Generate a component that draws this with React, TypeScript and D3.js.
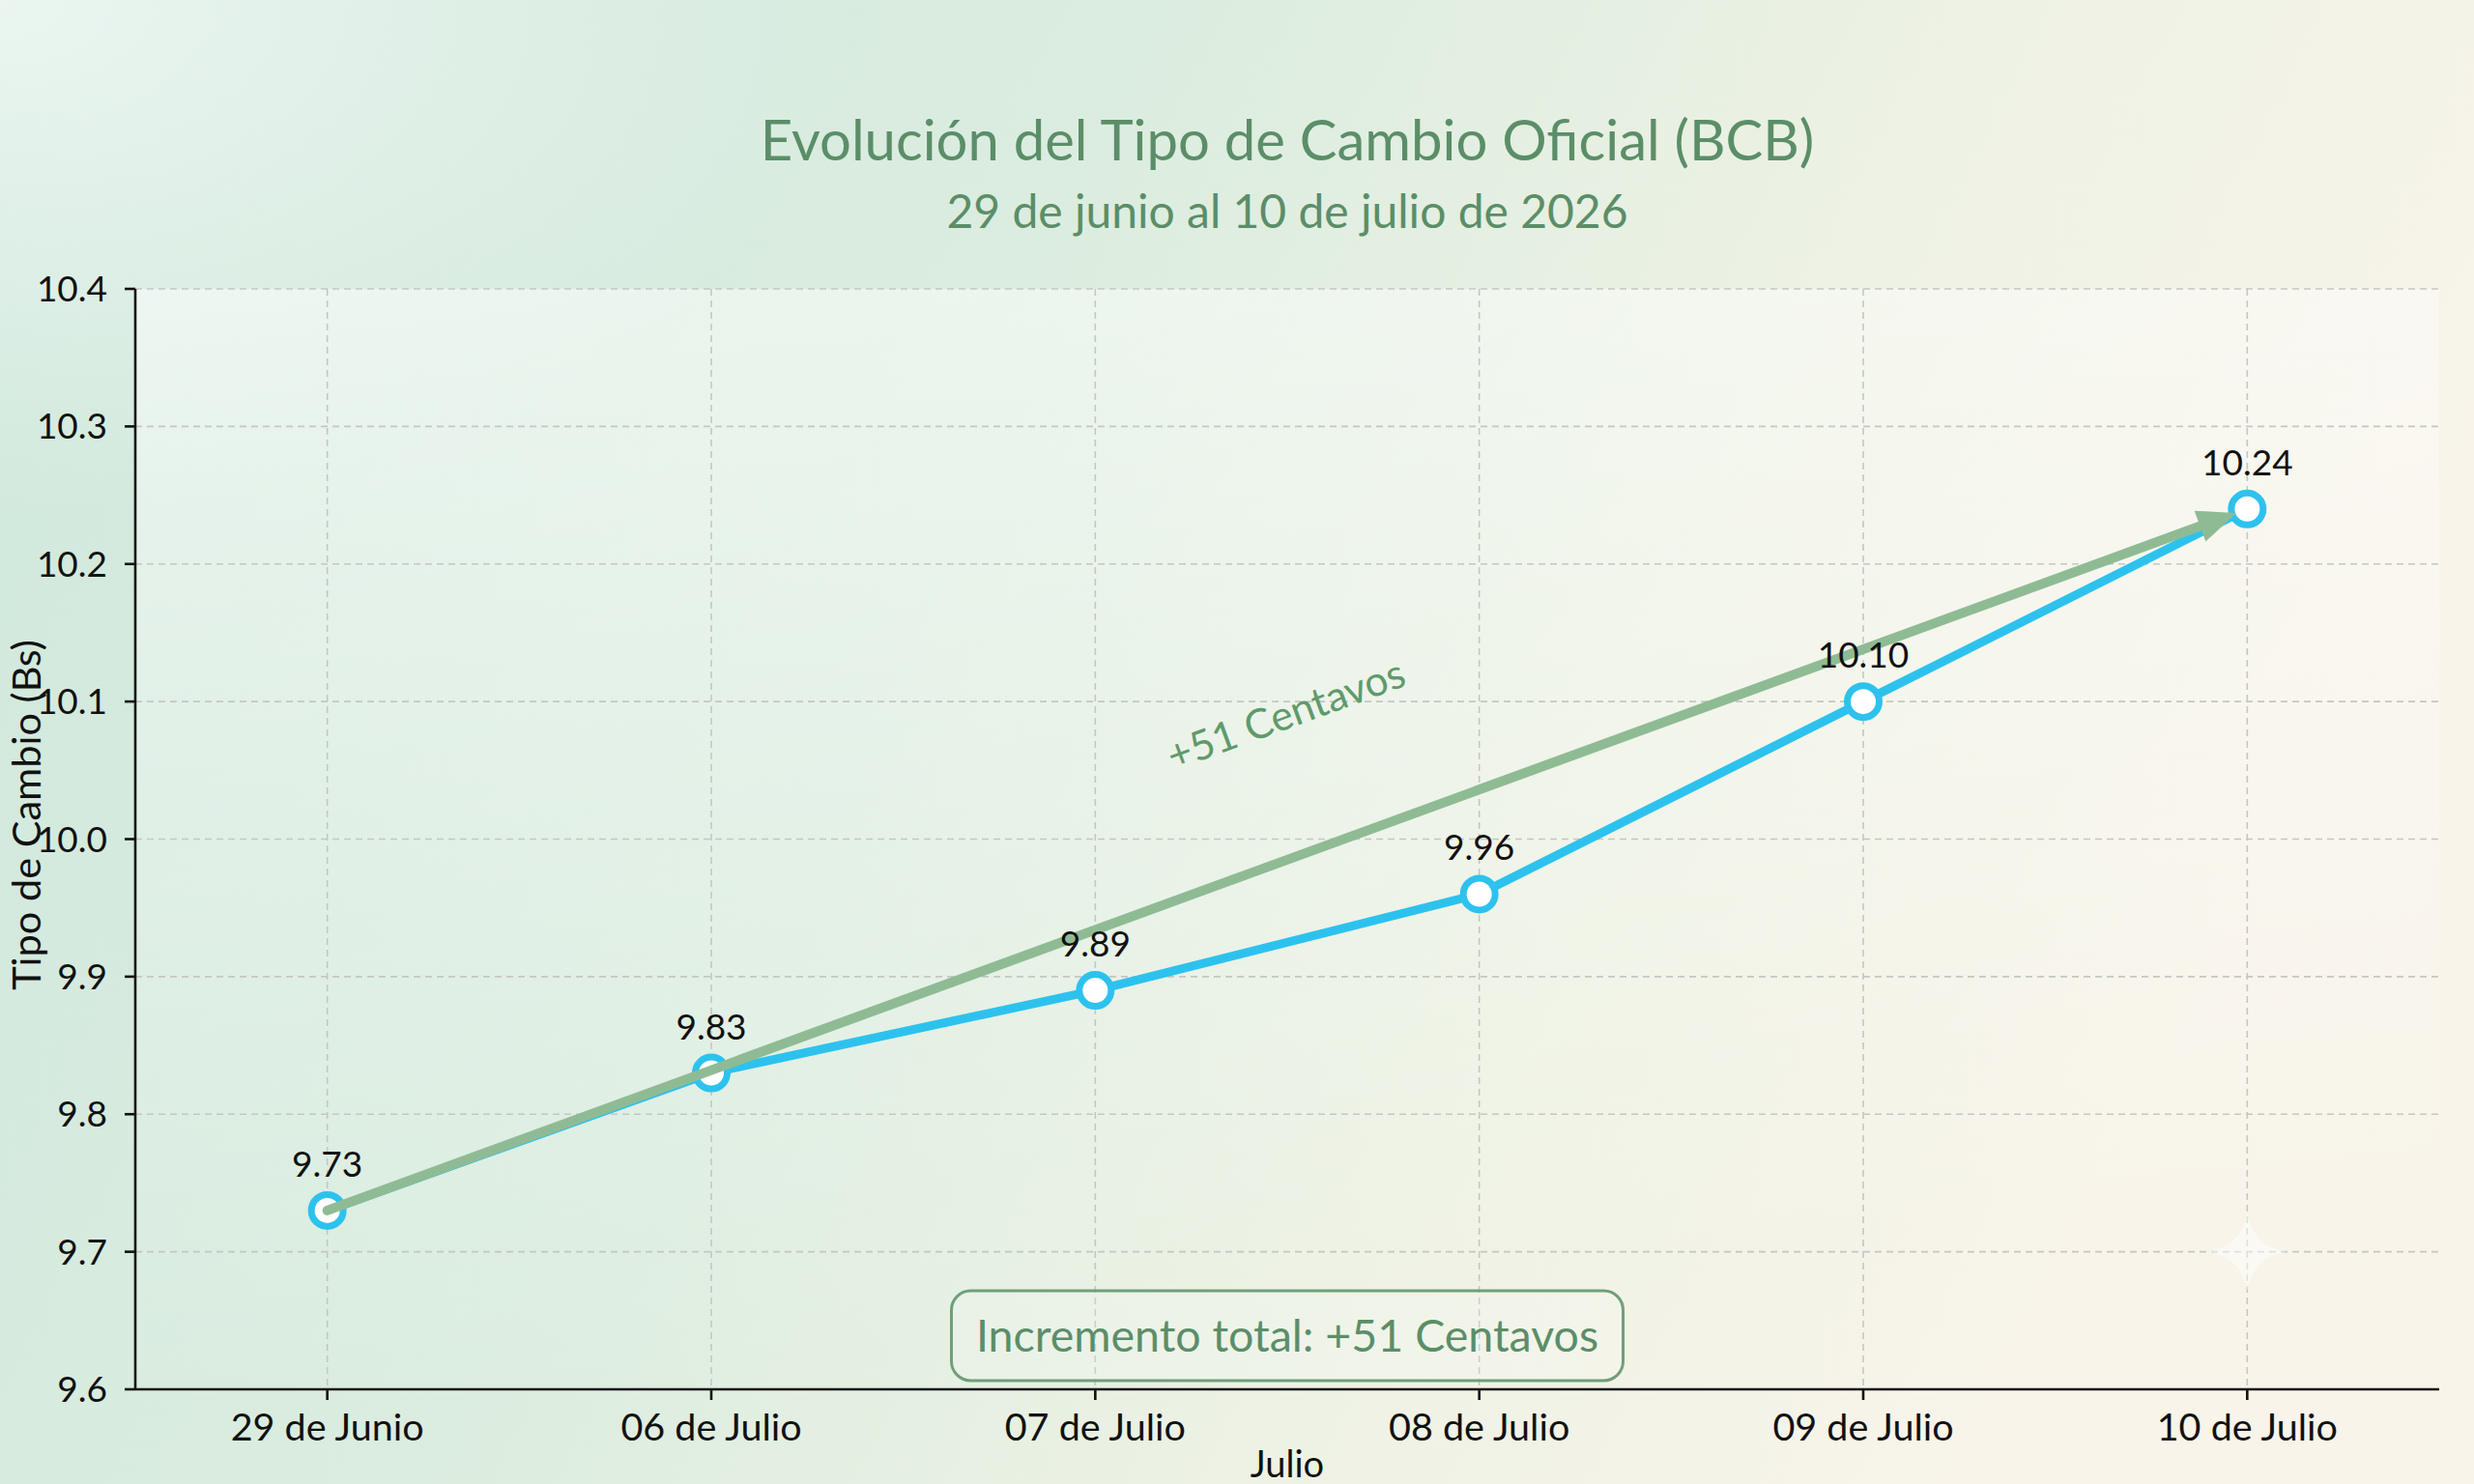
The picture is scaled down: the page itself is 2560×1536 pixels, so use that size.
import React from "react";
import * as d3 from "d3";

const categories = ["29 de Junio", "06 de Julio", "07 de Julio", "08 de Julio", "09 de Julio", "10 de Julio"];
const values = [9.73, 9.83, 9.89, 9.96, 10.1, 10.24];
const valueLabels = ["9.73", "9.83", "9.89", "9.96", "10.10", "10.24"];
const yTicks = [9.6, 9.7, 9.8, 9.9, 10.0, 10.1, 10.2, 10.3, 10.4];
const yTickLabels = ["9.6", "9.7", "9.8", "9.9", "10.0", "10.1", "10.2", "10.3", "10.4"];
const title = "Evolución del Tipo de Cambio Oficial (BCB)";
const subtitle = "29 de junio al 10 de julio de 2026";
const yAxisTitle = "Tipo de Cambio (Bs)";
const xAxisTitle = "Julio";
const arrowLabel = "+51 Centavos";
const boxLabel = "Incremento total: +51 Centavos";

const W = 2560;
const H = 1536;
const M = { left: 140, right: 36, top: 299, bottom: 98 };

export default function App() {
  const x = d3
    .scalePoint<string>()
    .domain(categories)
    .range([M.left, W - M.right])
    .padding(0.5);
  const y = d3.scaleLinear().domain([9.6, 10.4]).range([H - M.bottom, M.top]);

  const pts = categories.map((c, i) => [x(c) as number, y(values[i])] as [number, number]);
  const line = d3.line<[number, number]>().x((d) => d[0]).y((d) => d[1]);

  const p0 = pts[0];
  const p1 = pts[pts.length - 1];
  const ang = Math.atan2(p1[1] - p0[1], p1[0] - p0[0]);
  const ux = Math.cos(ang);
  const uy = Math.sin(ang);
  const tip: [number, number] = [p1[0] - ux * 12, p1[1] - uy * 12];
  const headLen = 40;
  const headW = 17;
  const base: [number, number] = [tip[0] - ux * headLen, tip[1] - uy * headLen];
  const head = [
    tip,
    [base[0] - uy * headW, base[1] + ux * headW],
    [base[0] + uy * headW, base[1] - ux * headW],
  ];
  const mid: [number, number] = [(p0[0] + p1[0]) / 2, (p0[1] + p1[1]) / 2];
  const angDeg = (ang * 180) / Math.PI;
  const labelPos: [number, number] = [mid[0] - 2, mid[1] - 152];

  const font = "Lato, 'Noto Sans', sans-serif";
  const x0 = M.left;
  const x1 = W - M.right;
  const yb = H - M.bottom;
  const yt = M.top;
  const cx = (x0 + x1) / 2;

  const boxW = 695;
  const boxH = 93;
  const boxY = 1336;

  const sx = x(categories[5]) as number;
  const sy = y(9.7);

  return (
    <div style={{ position: "absolute", left: 0, top: 0, width: W, height: H }}>
      <svg width={W} height={H} viewBox={`0 0 ${W} ${H}`} style={{ display: "block" }}>
        <defs>
          <linearGradient id="bg" x1="0" y1="0" x2="1" y2="0.3">
            <stop offset="0" stopColor="#cfe8dc" />
            <stop offset="0.45" stopColor="#dcede0" />
            <stop offset="0.75" stopColor="#eef2e4" />
            <stop offset="1" stopColor="#f8f4ea" />
          </linearGradient>
          <radialGradient id="tl" cx="0" cy="0" r="0.35">
            <stop offset="0" stopColor="#eef7f3" stopOpacity="0.9" />
            <stop offset="1" stopColor="#eef7f3" stopOpacity="0" />
          </radialGradient>
          <linearGradient id="plotbg" x1="0" y1="0" x2="0.2" y2="1">
            <stop offset="0" stopColor="#ffffff" stopOpacity="0.5" />
            <stop offset="0.6" stopColor="#ffffff" stopOpacity="0.2" />
            <stop offset="1" stopColor="#ffffff" stopOpacity="0.02" />
          </linearGradient>
        </defs>
        <rect x={0} y={0} width={W} height={H} fill="url(#bg)" />
        <rect x={0} y={0} width={W} height={H} fill="url(#tl)" />
        <rect x={x0} y={yt} width={x1 - x0} height={yb - yt} fill="url(#plotbg)" />

        {/* title */}
        <text x={cx} y={166} textAnchor="middle" fontFamily={font} fontSize={58} fill="#5b8e68">
          {title}
        </text>
        <text x={cx} y={236} textAnchor="middle" fontFamily={font} fontSize={48} fill="#5b8e68">
          {subtitle}
        </text>

        {/* grid */}
        {yTicks.map((t) => (
          <line key={"gy" + t} x1={x0} x2={x1} y1={y(t)} y2={y(t)} stroke="#c4c7c2" strokeWidth={1.6} strokeDasharray="7,5" />
        ))}
        {categories.map((c) => (
          <line key={"gx" + c} x1={x(c)} x2={x(c)} y1={yt} y2={yb} stroke="#c4c7c2" strokeWidth={1.6} strokeDasharray="7,5" />
        ))}

        {/* axes */}
        <line x1={x0} x2={x0} y1={yt} y2={yb} stroke="#111" strokeWidth={2.6} />
        <line x1={x0} x2={x1} y1={yb} y2={yb} stroke="#111" strokeWidth={2.6} />
        {yTicks.map((t, i) => (
          <g key={"ty" + t}>
            <line x1={x0 - 11} x2={x0} y1={y(t)} y2={y(t)} stroke="#111" strokeWidth={2.6} />
            <text x={x0 - 29} y={y(t) + 13} textAnchor="end" fontFamily={font} fontSize={37} fill="#111">
              {yTickLabels[i]}
            </text>
          </g>
        ))}
        {categories.map((c) => (
          <g key={"tx" + c}>
            <line x1={x(c)} x2={x(c)} y1={yb} y2={yb + 11} stroke="#111" strokeWidth={2.6} />
            <text x={x(c)} y={yb + 53} textAnchor="middle" fontFamily={font} fontSize={39.5} fill="#111">
              {c}
            </text>
          </g>
        ))}
        <text x={cx} y={1529} textAnchor="middle" fontFamily={font} fontSize={38} fill="#111">
          {xAxisTitle}
        </text>
        <text
          transform={`translate(42, ${(yt + yb) / 2 - 25}) rotate(-90)`}
          textAnchor="middle"
          fontFamily={font}
          fontSize={41.5}
          fill="#111"
        >
          {yAxisTitle}
        </text>

        {/* data line */}
        <path d={line(pts) || ""} fill="none" stroke="#2dc2ee" strokeWidth={9} strokeLinejoin="round" strokeLinecap="round" />
        {pts.map((p, i) => (
          <circle key={"c" + i} cx={p[0]} cy={p[1]} r={16.5} fill="#ffffff" stroke="#2dc2ee" strokeWidth={7} />
        ))}

        {/* trend arrow */}
        <line x1={p0[0]} y1={p0[1]} x2={base[0] + ux * 4} y2={base[1] + uy * 4} stroke="#8fbb94" strokeWidth={10} strokeLinecap="round" />
        <polygon points={head.map((d) => d.join(",")).join(" ")} fill="#8fbb94" />
        <text
          transform={`translate(${labelPos[0]}, ${labelPos[1]}) rotate(${angDeg})`}
          textAnchor="middle"
          dominantBaseline="central"
          fontFamily={font}
          fontSize={42.5}
          fill="#5f9a6b"
        >
          {arrowLabel}
        </text>

        {/* value labels on top */}
        {pts.map((p, i) => (
          <text key={"l" + i} x={p[0]} y={p[1] - 35} textAnchor="middle" fontFamily={font} fontSize={37} fill="#111">
            {valueLabels[i]}
          </text>
        ))}

        {/* total box */}
        <rect
          x={cx - boxW / 2}
          y={boxY}
          width={boxW}
          height={boxH}
          rx={20}
          fill="#ffffff"
          fillOpacity={0.15}
          stroke="#6f9f79"
          strokeWidth={3}
        />
        <text x={cx} y={boxY + boxH / 2 + 16} textAnchor="middle" fontFamily={font} fontSize={46.5} fill="#5b8e68">
          {boxLabel}
        </text>

        {/* faint sparkle */}
        <path
          d={`M ${sx} ${sy - 40} Q ${sx + 6} ${sy - 6} ${sx + 40} ${sy} Q ${sx + 6} ${sy + 6} ${sx} ${sy + 40} Q ${sx - 6} ${sy + 6} ${sx - 40} ${sy} Q ${sx - 6} ${sy - 6} ${sx} ${sy - 40} Z`}
          fill="#ffffff"
          fillOpacity={0.45}
        />
      </svg>
    </div>
  );
}
